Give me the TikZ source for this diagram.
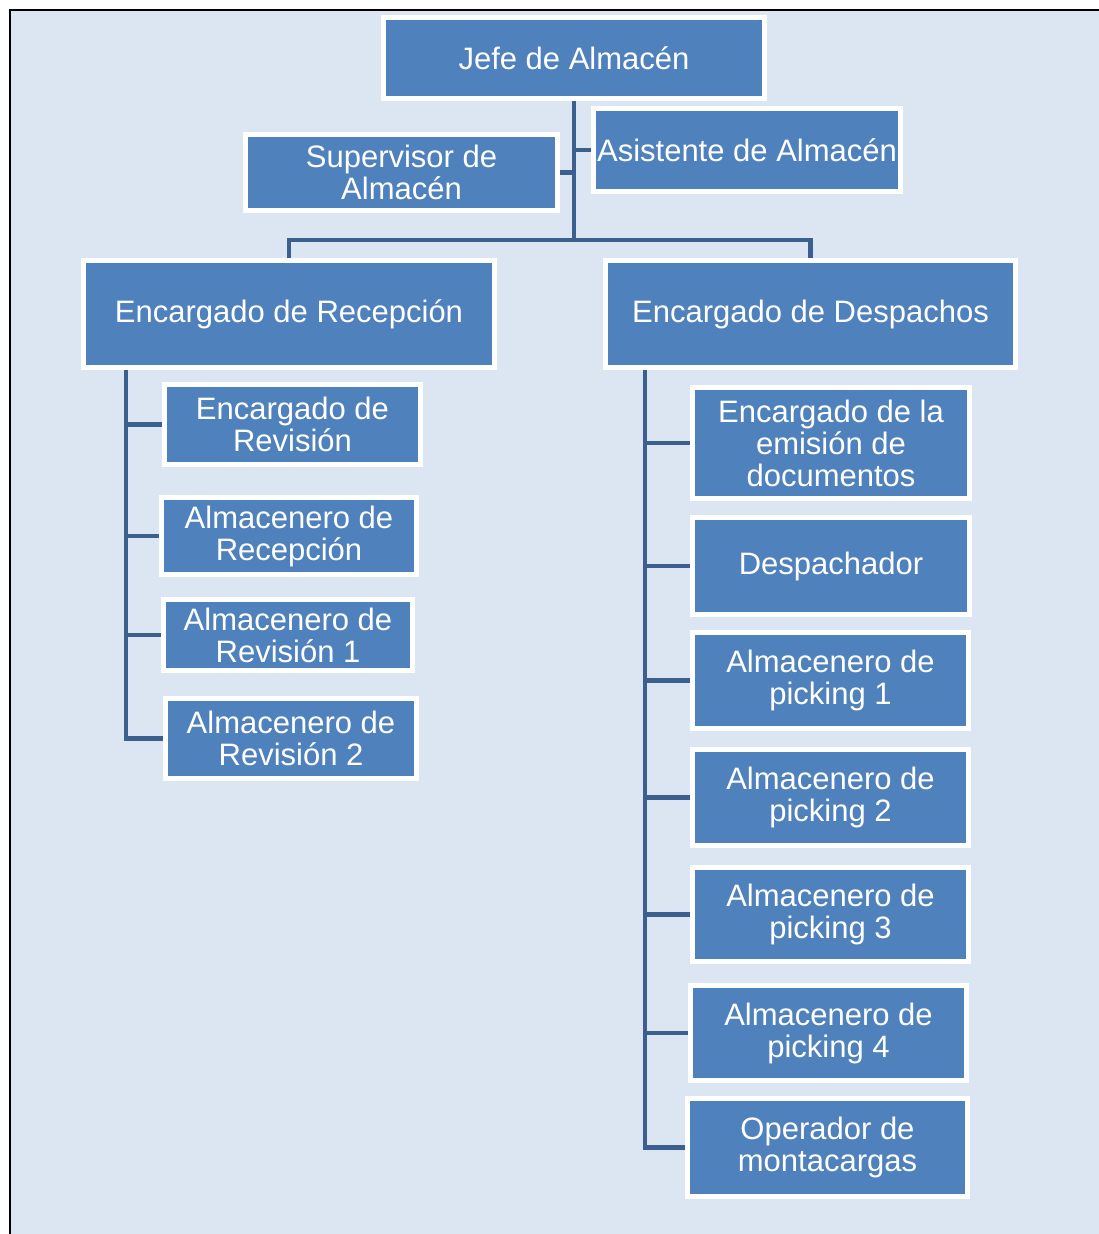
\documentclass[tikz,border=0pt]{standalone}
\usepackage{fontspec}
\setmainfont{Liberation Sans}
\definecolor{bgblue}{HTML}{DCE6F2}
\definecolor{boxblue}{HTML}{4F81BD}
\definecolor{connblue}{HTML}{3B5F8E}
\pgfdeclarelayer{bglayer}
\pgfdeclarelayer{connlayer}
\pgfsetlayers{bglayer,connlayer,main}
\tikzset{
  orgbox/.style={rectangle, fill=boxblue, draw=white, line width=5pt, inner sep=0pt, outer sep=0pt,
    text=white, align=center, font=\fontsize{31}{32}\selectfont},
  conn/.style={draw=connblue, line width=4.5pt}
}
\begin{document}
\begin{tikzpicture}[x=1pt,y=-1pt]
\useasboundingbox (0,0) rectangle (1099,1234);
\begin{pgfonlayer}{bglayer}
  \fill[white] (0,0) rectangle (1099,1234);
  \fill[bgblue] (10,10) rectangle (1099,1234);
  \draw[black, line width=2pt] (10,1234) -- (10,10) -- (1099,10);
\end{pgfonlayer}

\node[orgbox, minimum width=381pt, minimum height=81pt] (jefe) at (574,58) {Jefe de Almacén};
\node[orgbox, minimum width=312pt, minimum height=76pt] (sup) at (401.5,172.5) {Supervisor de\\Almacén};
\node[orgbox, minimum width=307pt, minimum height=83pt] (asis) at (747,150) {Asistente de Almacén};
\node[orgbox, minimum width=411pt, minimum height=107pt] (rec) at (289,314) {Encargado de Recepción};
\node[orgbox, minimum width=410pt, minimum height=107pt] (des) at (810.5,314) {Encargado de Despachos};

\node[orgbox, minimum width=256pt, minimum height=80pt] (erev) at (292.5,424.5) {Encargado de\\Revisión};
\node[orgbox, minimum width=255pt, minimum height=77pt] (arec) at (289,536) {Almacenero de\\Recepción};
\node[orgbox, minimum width=249pt, minimum height=71pt] (arev1) at (288,635) {Almacenero de\\Revisión 1};
\node[orgbox, minimum width=251pt, minimum height=80pt] (arev2) at (291,738.5) {Almacenero de\\Revisión 2};

\node[orgbox, minimum width=277pt, minimum height=111pt] (emi) at (831,443) {Encargado de la\\emisión de\\documentos};
\node[orgbox, minimum width=277pt, minimum height=97pt] (desp) at (831,566) {Despachador};
\node[orgbox, minimum width=276pt, minimum height=96pt] (p1) at (830.5,680.5) {Almacenero de\\picking 1};
\node[orgbox, minimum width=276pt, minimum height=96pt] (p2) at (830.5,797.5) {Almacenero de\\picking 2};
\node[orgbox, minimum width=276pt, minimum height=94pt] (p3) at (830.5,914.5) {Almacenero de\\picking 3};
\node[orgbox, minimum width=276pt, minimum height=95pt] (p4) at (828.5,1033) {Almacenero de\\picking 4};
\node[orgbox, minimum width=280pt, minimum height=98pt] (op) at (827.5,1147.5) {Operador de\\montacargas};

\coordinate (bus) at (574,240);
\coordinate (lt) at (126,366);
\coordinate (rt) at (645,366);

\begin{pgfonlayer}{connlayer}
  \draw[conn] (jefe.south) -- (bus);
  \draw[conn] (rec.north) |- (bus) -| (des.north);
  \draw[conn] (sup.east) -- (sup.east -| bus);
  \draw[conn] (asis.west) -- (asis.west -| bus);

  \draw[conn] (lt) |- (arev2.west);
  \draw[conn] (erev.west) -- (erev.west -| lt);
  \draw[conn] (arec.west) -- (arec.west -| lt);
  \draw[conn] (arev1.west) -- (arev1.west -| lt);

  \draw[conn] (rt) |- (op.west);
  \draw[conn] (emi.west) -- (emi.west -| rt);
  \draw[conn] (desp.west) -- (desp.west -| rt);
  \draw[conn] (p1.west) -- (p1.west -| rt);
  \draw[conn] (p2.west) -- (p2.west -| rt);
  \draw[conn] (p3.west) -- (p3.west -| rt);
  \draw[conn] (p4.west) -- (p4.west -| rt);
\end{pgfonlayer}
\end{tikzpicture}
\end{document}
